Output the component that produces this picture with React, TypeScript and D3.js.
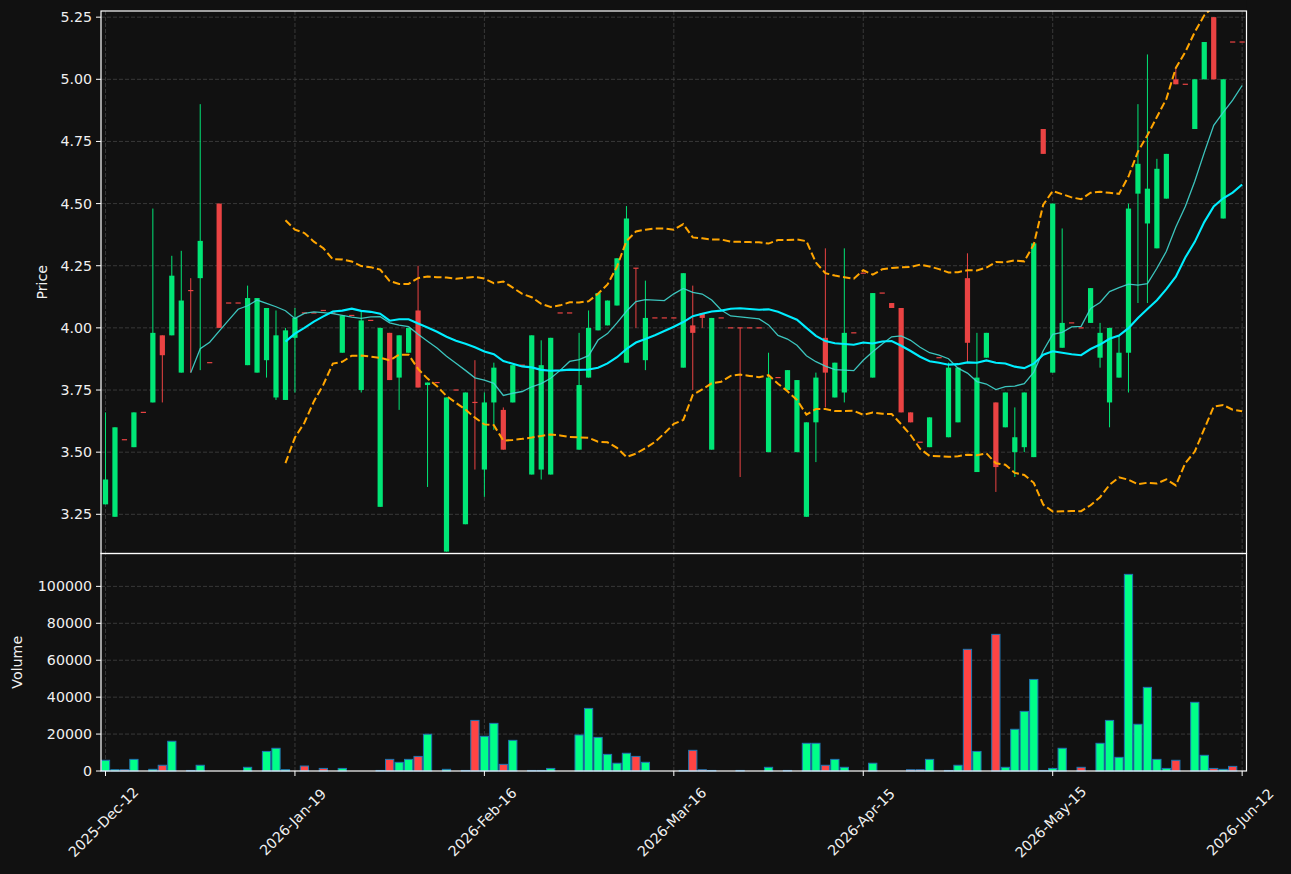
import React, { useEffect, useRef } from 'react';
import * as d3 from 'd3';

// daily OHLC + volume, one entry per trading session (121 sessions)
const opens = [
  3.29, 3.24, 3.55, 3.52, 3.66, 3.70, 3.97, 3.97, 3.82, 4.15,
  4.20, 3.86, 4.50, 4.10, 4.10, 3.85, 3.82, 3.87, 3.72, 3.71,
  3.96, 4.06, 4.06, 4.07, 4.06, 3.90, 4.05, 3.75, 4.03, 3.28,
  3.98, 3.80, 3.90, 4.07, 3.77, 3.78, 3.10, 3.75, 3.21, 3.70,
  3.43, 3.70, 3.67, 3.70, 3.85, 3.41, 3.43, 3.41, 4.06, 4.06,
  3.51, 3.80, 3.99, 4.01, 4.09, 3.86, 4.24, 3.87, 4.04, 4.04,
  4.04, 3.84, 4.01, 4.06, 3.51, 4.04, 4.00, 4.00, 4.00, 4.00,
  3.50, 3.80, 3.75, 3.50, 3.24, 3.62, 3.96, 3.72, 3.74, 3.98,
  4.22, 3.80, 4.14, 4.10, 4.08, 3.66, 3.54, 3.52, 3.88, 3.56,
  3.62, 4.20, 3.42, 3.88, 3.70, 3.60, 3.50, 3.52, 3.48, 4.80,
  3.82, 3.92, 4.02, 4.00, 4.02, 3.88, 3.70, 3.80, 3.90, 4.54,
  4.42, 4.32, 4.52, 5.00, 4.98, 4.80, 5.00, 5.25, 4.44, 5.15,
  5.15,
];
const highs = [
  3.66, 3.60, 3.55, 3.66, 3.66, 4.48, 3.97, 4.29, 4.31, 4.20,
  4.90, 3.86, 4.50, 4.10, 4.10, 4.17, 4.12, 4.08, 4.07, 4.00,
  4.08, 4.06, 4.06, 4.07, 4.06, 4.05, 4.05, 4.07, 4.03, 4.00,
  3.98, 3.97, 4.00, 4.25, 3.78, 3.78, 3.72, 3.75, 3.74, 3.87,
  3.74, 3.86, 3.68, 3.85, 3.85, 3.97, 3.95, 3.96, 4.06, 4.06,
  3.98, 4.07, 4.14, 4.11, 4.28, 4.49, 4.24, 4.19, 4.04, 4.04,
  4.04, 4.22, 4.17, 4.06, 4.04, 4.04, 4.00, 4.00, 4.00, 4.00,
  3.90, 3.80, 3.83, 3.79, 3.62, 3.82, 4.32, 3.86, 4.32, 3.98,
  4.22, 4.14, 4.14, 4.10, 4.08, 3.66, 3.54, 3.64, 3.88, 3.86,
  3.84, 4.30, 3.98, 3.98, 3.70, 3.74, 3.68, 3.74, 4.34, 4.80,
  4.50, 4.40, 4.02, 4.00, 4.16, 4.02, 4.00, 3.97, 4.50, 4.90,
  5.10, 4.68, 4.70, 5.05, 4.98, 5.00, 5.15, 5.25, 5.00, 5.15,
  5.15,
];
const lows = [
  3.29, 3.24, 3.55, 3.52, 3.66, 3.70, 3.70, 3.97, 3.82, 3.82,
  3.83, 3.86, 4.00, 4.10, 4.10, 3.85, 3.82, 3.80, 3.71, 3.71,
  3.74, 4.06, 4.06, 4.07, 4.06, 3.90, 4.05, 3.74, 4.03, 3.28,
  3.79, 3.67, 3.90, 3.76, 3.36, 3.78, 3.10, 3.75, 3.21, 3.43,
  3.32, 3.59, 3.51, 3.70, 3.85, 3.41, 3.39, 3.41, 4.06, 4.06,
  3.51, 3.80, 3.99, 4.01, 4.09, 3.86, 4.00, 3.83, 4.04, 4.04,
  4.04, 3.84, 3.75, 4.00, 3.51, 4.04, 4.00, 3.40, 4.00, 4.00,
  3.50, 3.80, 3.75, 3.50, 3.24, 3.46, 3.68, 3.72, 3.70, 3.98,
  4.22, 3.80, 4.14, 4.08, 3.66, 3.62, 3.54, 3.52, 3.88, 3.56,
  3.62, 3.86, 3.42, 3.88, 3.34, 3.60, 3.40, 3.50, 3.48, 4.70,
  3.82, 3.92, 4.02, 4.00, 4.02, 3.84, 3.60, 3.80, 3.74, 4.10,
  4.10, 4.32, 4.52, 4.98, 4.98, 4.80, 5.00, 5.00, 4.44, 5.15,
  5.15,
];
const closes = [
  3.39, 3.60, 3.55, 3.66, 3.66, 3.98, 3.89, 4.21, 4.11, 4.15,
  4.35, 3.86, 4.00, 4.10, 4.10, 4.12, 4.12, 4.08, 3.97, 3.99,
  4.04, 4.06, 4.06, 4.07, 4.06, 4.05, 4.05, 4.03, 4.03, 4.00,
  3.79, 3.97, 4.00, 3.76, 3.78, 3.78, 3.72, 3.75, 3.74, 3.70,
  3.70, 3.84, 3.51, 3.85, 3.85, 3.97, 3.85, 3.96, 4.06, 4.06,
  3.77, 4.00, 4.14, 4.11, 4.28, 4.44, 4.24, 4.04, 4.04, 4.04,
  4.04, 4.22, 3.98, 4.04, 4.04, 4.04, 4.00, 4.00, 4.00, 4.00,
  3.80, 3.80, 3.83, 3.79, 3.62, 3.80, 3.82, 3.86, 3.98, 3.98,
  4.22, 4.14, 4.14, 4.08, 3.66, 3.62, 3.54, 3.64, 3.88, 3.84,
  3.84, 3.94, 3.80, 3.98, 3.44, 3.74, 3.56, 3.74, 4.34, 4.70,
  4.50, 4.02, 4.02, 4.00, 4.16, 3.98, 4.00, 3.90, 4.48, 4.66,
  4.56, 4.64, 4.70, 4.98, 4.98, 5.00, 5.15, 5.00, 5.00, 5.15,
  5.15,
];
const volumes = [
  5800, 700, 700, 6300, 0, 900, 3100, 16100, 0, 300,
  3100, 0, 0, 0, 0, 2000, 0, 10600, 12300, 700,
  0, 2700, 0, 1400, 0, 1400, 0, 0, 0, 300,
  6300, 4700, 6300, 7900, 19900, 0, 900, 0, 300, 27400,
  18800, 25800, 3600, 16600, 0, 300, 300, 1400, 0, 0,
  19500, 33900, 18200, 9000, 4200, 9600, 7900, 4700, 0, 0,
  0, 300, 11200, 700, 300, 0, 0, 300, 0, 0,
  2000, 0, 300, 0, 15000, 15000, 3100, 6300, 2000, 0,
  0, 4200, 0, 0, 0, 700, 700, 6300, 0, 300,
  3100, 65900, 10600, 0, 74000, 2000, 22600, 32300, 49600, 300,
  1400, 12300, 0, 2000, 0, 15000, 27400, 7400, 106500, 25300,
  45300, 6300, 1400, 5800, 0, 37200, 8500, 1400, 900, 2500,
  0,
];

const tickIndex = [0, 20, 40, 60, 80, 100, 120];
const tickLabels = ['2025-Dec-12', '2026-Jan-19', '2026-Feb-16', '2026-Mar-16', '2026-Apr-15', '2026-May-15', '2026-Jun-12'];
const priceTicks = [3.25, 3.5, 3.75, 4.0, 4.25, 4.5, 4.75, 5.0, 5.25];
const volumeTicks = [0, 20000, 40000, 60000, 80000, 100000];

// rolling mean / population std over the closes
const rolling = (vals: number[], n: number) =>
  vals.map((_, i) => {
    if (i < n - 1) return null;
    const win = vals.slice(i - n + 1, i + 1);
    const m = d3.mean(win) as number;
    const sd = Math.sqrt(d3.mean(win, (v) => (v - m) * (v - m)) as number);
    return { m, sd };
  });

const App = () => {
  const svgRef = useRef<SVGSVGElement>(null);

  useEffect(() => {
    document.body.style.margin = '0';
    document.body.style.background = '#111111';
    const svg = d3.select(svgRef.current);
    svg.selectAll('*').remove();

    const left = 101, right = 1246.5;
    const pTop = 11, pBottom = 553.5, vBottom = 771;
    const textColor = '#f0f0f0';
    const font = 'DejaVu Sans, sans-serif';
    const fs = 14.2;

    const n = closes.length;
    const x = d3.scaleLinear().domain([-0.475, 120.46]).range([left, right]);
    const yP = d3.scaleLinear().domain([3.0923, 5.2748]).range([pBottom, pTop]);
    const yV = d3.scaleLinear().domain([0, 117800]).range([vBottom, pBottom]);
    const step = x(1) - x(0);

    const isUp = (i: number) => closes[i] > opens[i];

    svg.append('rect').attr('width', 1291).attr('height', 874).attr('fill', '#111111');

    // grid
    const grid = svg.append('g').attr('stroke', '#3d3d3d').attr('stroke-width', 0.9).attr('stroke-dasharray', '4,2');
    priceTicks.forEach((t) => {
      grid.append('line').attr('x1', left).attr('x2', right).attr('y1', yP(t)).attr('y2', yP(t));
    });
    volumeTicks.slice(1).forEach((t) => {
      grid.append('line').attr('x1', left).attr('x2', right).attr('y1', yV(t)).attr('y2', yV(t));
    });
    tickIndex.forEach((t) => {
      grid.append('line').attr('x1', x(t)).attr('x2', x(t)).attr('y1', pTop).attr('y2', vBottom);
    });

    // volume bars
    const bw = step * 0.87;
    const vg = svg.append('g');
    volumes.forEach((v, i) => {
      if (v <= 0) return;
      vg.append('rect')
        .attr('x', x(i) - bw / 2)
        .attr('y', yV(v))
        .attr('width', bw)
        .attr('height', yV(0) - yV(v))
        .attr('fill', isUp(i) ? '#00ff88' : '#ff4444')
        .attr('stroke', '#1f77b4')
        .attr('stroke-width', 1);
    });

    // candles
    const cw = step * 0.55;
    const cg = svg.append('g');
    closes.forEach((c, i) => {
      const col = isUp(i) ? '#00e676' : '#ea4343';
      if (highs[i] > lows[i]) {
        cg.append('line')
          .attr('x1', x(i)).attr('x2', x(i))
          .attr('y1', yP(highs[i])).attr('y2', yP(lows[i]))
          .attr('stroke', col).attr('stroke-width', 1);
      }
      const yTop = yP(Math.max(opens[i], c));
      const h = Math.max(yP(Math.min(opens[i], c)) - yTop, 1.2);
      cg.append('rect')
        .attr('x', x(i) - cw / 2)
        .attr('y', h <= 1.2 ? yTop - 0.6 : yTop)
        .attr('width', cw)
        .attr('height', h)
        .attr('fill', col);
    });

    // moving averages and bollinger bands
    const ma10 = rolling(closes, 10);
    const ma20 = rolling(closes, 20);
    const line = (get: (i: number) => number | null) =>
      d3.line<number>()
        .defined((i) => get(i) !== null)
        .x((i) => x(i))
        .y((i) => yP(get(i) as number));
    const idx = d3.range(n);

    svg.append('path')
      .attr('d', line((i) => (ma10[i] ? ma10[i]!.m : null))(idx))
      .attr('fill', 'none').attr('stroke', '#40d8d0').attr('stroke-width', 1.3).attr('opacity', 0.9);
    svg.append('path')
      .attr('d', line((i) => (ma20[i] ? ma20[i]!.m : null))(idx))
      .attr('fill', 'none').attr('stroke', '#00eeff').attr('stroke-width', 2.1);
    [1, -1].forEach((s) => {
      svg.append('path')
        .attr('d', line((i) => (ma20[i] ? ma20[i]!.m + s * 2 * ma20[i]!.sd : null))(idx))
        .attr('fill', 'none').attr('stroke', '#ffa500').attr('stroke-width', 2)
        .attr('stroke-dasharray', '7.5,3.3');
    });

    // hide overflow above the price panel
    svg.append('rect').attr('x', left).attr('y', 0).attr('width', right - left).attr('height', pTop).attr('fill', '#111111');

    // spines
    const sp = svg.append('g').attr('stroke', '#ffffff').attr('stroke-width', 1.2).attr('fill', 'none');
    sp.append('rect').attr('x', left).attr('y', pTop).attr('width', right - left).attr('height', pBottom - pTop);
    sp.append('rect').attr('x', left).attr('y', pBottom).attr('width', right - left).attr('height', vBottom - pBottom);

    // y ticks
    const yt = svg.append('g');
    priceTicks.forEach((t) => {
      yt.append('line').attr('x1', left - 5).attr('x2', left).attr('y1', yP(t)).attr('y2', yP(t)).attr('stroke', '#ffffff');
      yt.append('text').attr('x', left - 9).attr('y', yP(t)).attr('dy', '0.35em')
        .attr('text-anchor', 'end').attr('fill', textColor).attr('font-size', fs).attr('font-family', font)
        .text(t.toFixed(2));
    });
    volumeTicks.forEach((t) => {
      yt.append('line').attr('x1', left - 5).attr('x2', left).attr('y1', yV(t)).attr('y2', yV(t)).attr('stroke', '#ffffff');
      yt.append('text').attr('x', left - 9).attr('y', yV(t)).attr('dy', '0.35em')
        .attr('text-anchor', 'end').attr('fill', textColor).attr('font-size', fs).attr('font-family', font)
        .text(String(t));
    });

    // x ticks
    tickIndex.forEach((t, k) => {
      yt.append('line').attr('x1', x(t)).attr('x2', x(t)).attr('y1', vBottom).attr('y2', vBottom + 5).attr('stroke', '#ffffff');
      yt.append('text')
        .attr('transform', `translate(${x(t) - 2}, ${822}) rotate(-45)`)
        .attr('text-anchor', 'middle').attr('dy', '0.35em')
        .attr('fill', textColor).attr('font-size', fs).attr('font-family', font)
        .text(tickLabels[k]);
    });

    // axis labels
    svg.append('text')
      .attr('transform', `translate(42, ${(pTop + pBottom) / 2}) rotate(-90)`)
      .attr('text-anchor', 'middle').attr('dy', '0.35em')
      .attr('fill', textColor).attr('font-size', fs).attr('font-family', font)
      .text('Price');
    svg.append('text')
      .attr('transform', `translate(17, ${(pBottom + vBottom) / 2}) rotate(-90)`)
      .attr('text-anchor', 'middle').attr('dy', '0.35em')
      .attr('fill', textColor).attr('font-size', fs).attr('font-family', font)
      .text('Volume');
  }, []);

  return (
    <svg ref={svgRef} width={1291} height={874} style={{ position: 'absolute', left: 0, top: 0, display: 'block' }} />
  );
};

export default App;
